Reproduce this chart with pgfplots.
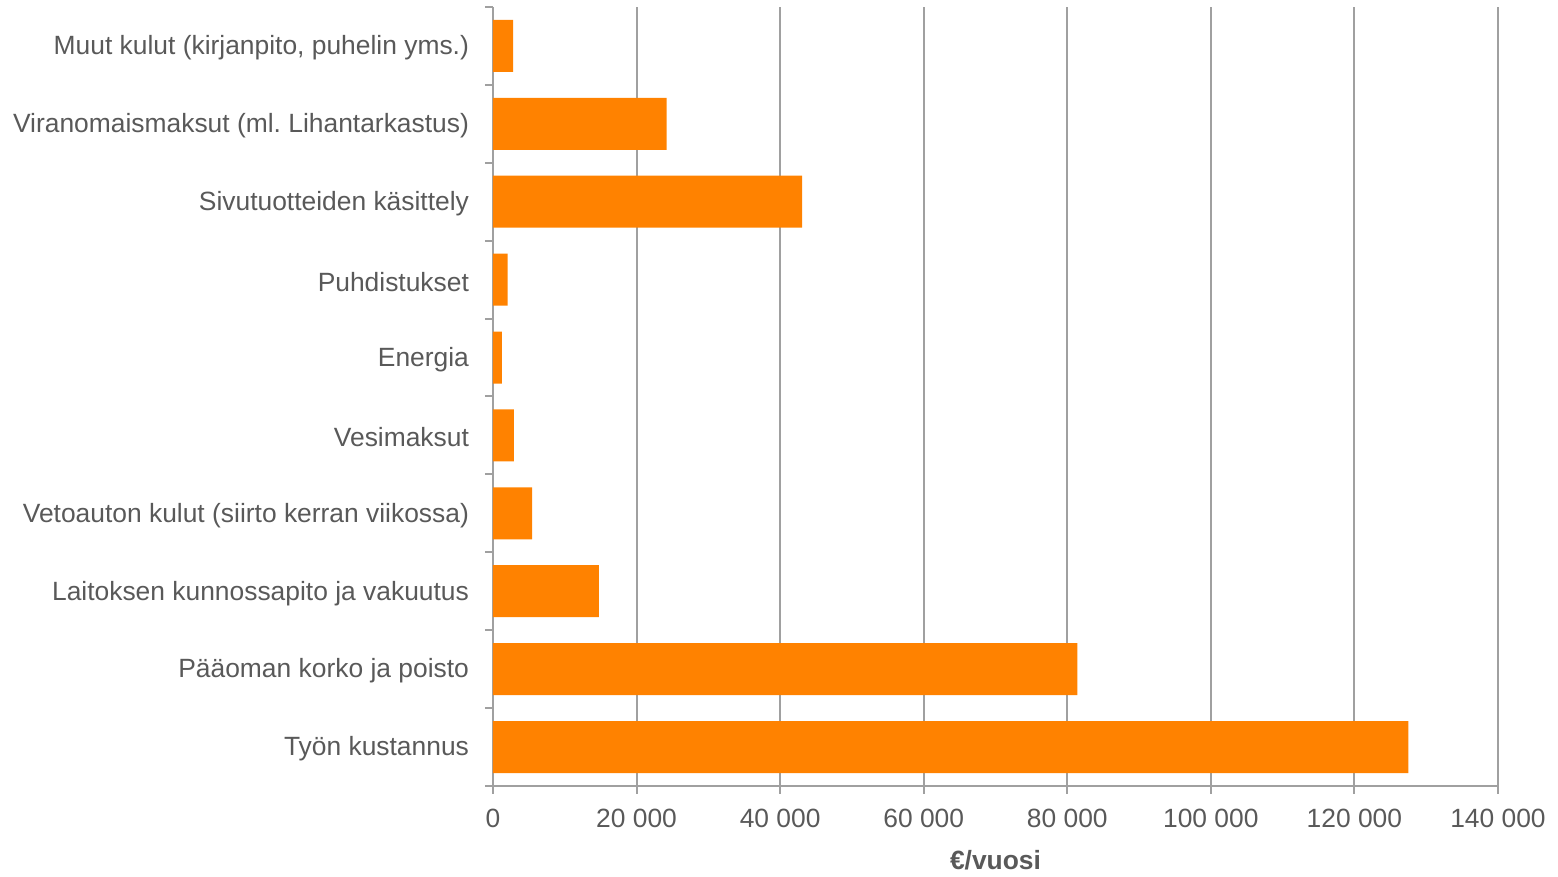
\documentclass[border=0pt]{standalone}
\usepackage{pgfplots}
\pgfplotsset{compat=1.18}
\usepackage{fontspec}
\setmainfont{Liberation Sans}
\frenchspacing
\definecolor{txt}{HTML}{595959}
\definecolor{gridc}{HTML}{A0A0A0}
\definecolor{barc}{HTML}{FF8200}
\begin{document}
\begin{tikzpicture}
\begin{axis}[
  scale only axis,
  width=502.5pt, height=389.5pt,
  xbar, bar width=26pt,
  xmin=0, xmax=140000, ymin=-0.5, ymax=9.5,
  axis x line*=bottom, axis y line*=left,
  axis line style={gridc, line width=1pt},
  xtick={0,20000,40000,60000,80000,100000,120000,140000},
  xticklabels={0,20 000,40 000,60 000,80 000,100 000,120 000,140 000},
  scaled x ticks=false,
  xmajorgrids, grid style={gridc, line width=1pt},
  ytick={0,...,9},
  yticklabels={Työn kustannus,Pääoman korko ja poisto,Laitoksen kunnossapito ja vakuutus,Vetoauton kulut (siirto kerran viikossa),Vesimaksut,Energia,Puhdistukset,Sivutuotteiden käsittely,Viranomaismaksut (ml.\ Lihantarkastus),Muut kulut (kirjanpito{,} puhelin yms.)},
  minor ytick={-0.5,0.5,...,9.5},
  tick align=outside,
  major tick length=4pt,
  y tick style={draw=none},
  minor y tick style={draw=gridc, line width=1pt},
  minor tick length=4pt,
  x tick style={gridc, line width=1pt},
  tick label style={font=\fontsize{13.2}{16}\selectfont, text=txt},
  yticklabel style={xshift=-4.5pt, yshift=-1pt},
  xticklabel style={yshift=-4pt},
  xlabel={\textbf{€/vuosi}},
  xlabel style={font=\fontsize{13.2}{16}\selectfont, text=txt, yshift=-4.5pt},
  clip=false,
]
\addplot[fill=barc, draw=none] coordinates {
(127500,0) (81400,1) (14750,2) (5450,3) (2900,4) (1250,5) (2050,6) (43050,7) (24200,8) (2800,9)};
\path (rel axis cs:0,0) ++(-246.5pt,-41.5pt) coordinate (bl);
\path (rel axis cs:1,1) ++(30pt,3.5pt) coordinate (tr);
\path[use as bounding box] (bl) rectangle (tr);
\end{axis}
\end{tikzpicture}
\end{document}
